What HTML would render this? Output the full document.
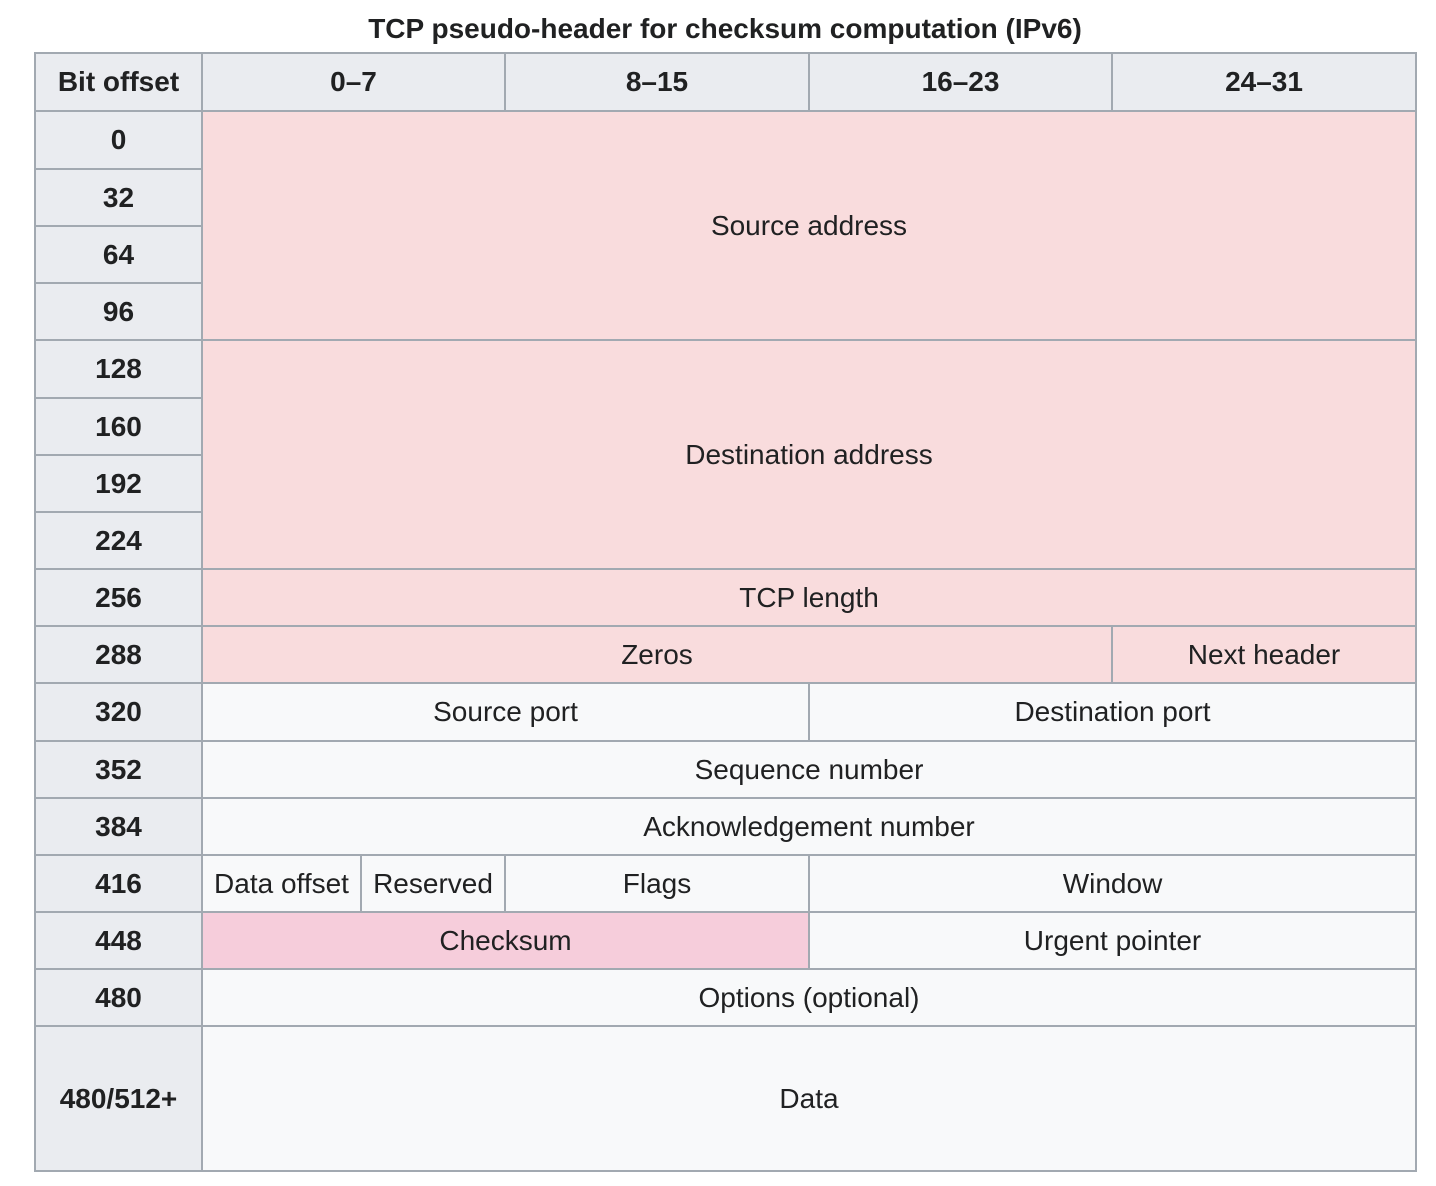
<!DOCTYPE html>
<html><head><meta charset="utf-8"><style>
html,body{margin:0;padding:0;background:#fff;width:1436px;height:1186px;overflow:hidden}
body{position:relative;font-family:"Liberation Sans",Arial,sans-serif;color:#202122}
.c{position:absolute;box-sizing:border-box;border:2px solid #a2a9b1;display:flex;align-items:center;justify-content:center;font-size:28px;white-space:nowrap}
.h{background:#eaecf0;font-weight:bold}
.p{background:#f9dcdd}
.k{background:#f6cddb}
.w{background:#f8f9fa}
.t{position:absolute;left:0;width:1450px;top:13px;text-align:center;font-weight:bold;font-size:28px}
</style></head><body>
<div class="t">TCP pseudo-header for checksum computation (IPv6)</div>

<div class="c h" style="left:34px;top:52px;width:169px;height:60px">Bit offset</div>
<div class="c h" style="left:201px;top:52px;width:305px;height:60px">0–7</div>
<div class="c h" style="left:504px;top:52px;width:306px;height:60px">8–15</div>
<div class="c h" style="left:808px;top:52px;width:305px;height:60px">16–23</div>
<div class="c h" style="left:1111px;top:52px;width:306px;height:60px">24–31</div>

<div class="c h" style="left:34px;top:110px;width:169px;height:60px">0</div>
<div class="c h" style="left:34px;top:168px;width:169px;height:59px">32</div>
<div class="c h" style="left:34px;top:225px;width:169px;height:59px">64</div>
<div class="c h" style="left:34px;top:282px;width:169px;height:59px">96</div>
<div class="c h" style="left:34px;top:339px;width:169px;height:60px">128</div>
<div class="c h" style="left:34px;top:397px;width:169px;height:59px">160</div>
<div class="c h" style="left:34px;top:454px;width:169px;height:59px">192</div>
<div class="c h" style="left:34px;top:511px;width:169px;height:59px">224</div>
<div class="c h" style="left:34px;top:568px;width:169px;height:59px">256</div>
<div class="c h" style="left:34px;top:625px;width:169px;height:59px">288</div>
<div class="c h" style="left:34px;top:682px;width:169px;height:60px">320</div>
<div class="c h" style="left:34px;top:740px;width:169px;height:59px">352</div>
<div class="c h" style="left:34px;top:797px;width:169px;height:59px">384</div>
<div class="c h" style="left:34px;top:854px;width:169px;height:59px">416</div>
<div class="c h" style="left:34px;top:911px;width:169px;height:59px">448</div>
<div class="c h" style="left:34px;top:968px;width:169px;height:59px">480</div>
<div class="c h" style="left:34px;top:1025px;width:169px;height:147px">480/512+</div>

<div class="c p" style="left:201px;top:110px;width:1216px;height:231px">Source address</div>
<div class="c p" style="left:201px;top:339px;width:1216px;height:231px">Destination address</div>
<div class="c p" style="left:201px;top:568px;width:1216px;height:59px">TCP length</div>
<div class="c p" style="left:201px;top:625px;width:912px;height:59px">Zeros</div>
<div class="c p" style="left:1111px;top:625px;width:306px;height:59px">Next header</div>
<div class="c w" style="left:201px;top:682px;width:609px;height:60px">Source port</div>
<div class="c w" style="left:808px;top:682px;width:609px;height:60px">Destination port</div>
<div class="c w" style="left:201px;top:740px;width:1216px;height:59px">Sequence number</div>
<div class="c w" style="left:201px;top:797px;width:1216px;height:59px">Acknowledgement number</div>
<div class="c w" style="left:201px;top:854px;width:161px;height:59px">Data offset</div>
<div class="c w" style="left:360px;top:854px;width:146px;height:59px">Reserved</div>
<div class="c w" style="left:504px;top:854px;width:306px;height:59px">Flags</div>
<div class="c w" style="left:808px;top:854px;width:609px;height:59px">Window</div>
<div class="c k" style="left:201px;top:911px;width:609px;height:59px">Checksum</div>
<div class="c w" style="left:808px;top:911px;width:609px;height:59px">Urgent pointer</div>
<div class="c w" style="left:201px;top:968px;width:1216px;height:59px">Options (optional)</div>
<div class="c w" style="left:201px;top:1025px;width:1216px;height:147px">Data</div>
</body></html>
